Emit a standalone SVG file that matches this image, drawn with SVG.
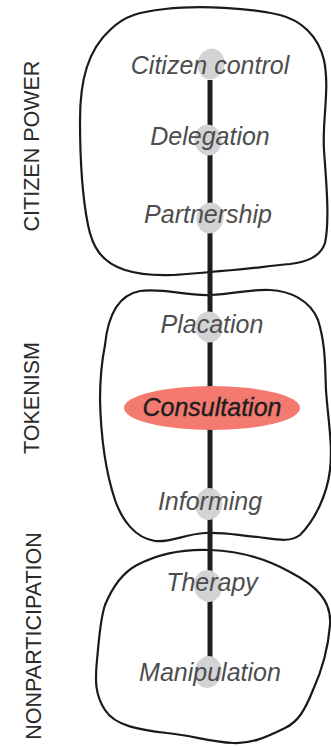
<svg xmlns="http://www.w3.org/2000/svg" width="331" height="746" viewBox="0 0 331 746">
<style>
.blob{fill:none;stroke:#1a1a1a;stroke-width:2.2;stroke-linejoin:round}
.dot{fill:#d3d3d5}
.lbl{font-family:"Liberation Sans",Arial,sans-serif;font-style:italic;font-size:25px;fill:#4d4d4d;text-anchor:middle}
.hi{font-family:"Liberation Sans",Arial,sans-serif;font-style:italic;font-size:25px;fill:#1e1e1e;stroke:#1e1e1e;stroke-width:0.4;text-anchor:middle}
.grp{font-family:"Liberation Sans",Arial,sans-serif;font-size:21.5px;fill:#2a2a2a;text-anchor:middle}
</style>
<rect width="331" height="746" fill="#fff"/>
<g id="group-citizen-power">
<path class="blob" d="M110,30 C125,15 140,12 165,9 C200,5 250,8 280,15 C300,20 318,35 324,60 C330,90 322,120 324,150 C326,180 330,220 325,243 C320,258 305,262 290,264 C260,267 240,270 210,272 C180,275 150,278 125,270 C100,262 92,245 88,225 C82,195 80,160 80,120 C80,80 88,50 110,30 Z"/>
<text class="grp" transform="translate(39,146) rotate(-90)">CITIZEN POWER</text>
</g>
<g id="group-tokenism">
<path class="blob" d="M105,345 C108,315 118,295 140,291 C165,288 185,296 210,295 C235,294 250,289 270,290 C290,291 310,300 318,320 C326,345 325,370 326,390 C328,420 333,445 330,470 C327,495 315,520 300,535 C290,543 275,539 258,537 C235,535 225,532 205,533 C185,534 170,543 155,541 C135,538 122,520 115,500 C105,470 101,440 100,400 C100,380 102,360 105,345 Z"/>
<text class="grp" transform="translate(39,398) rotate(-90)">TOKENISM</text>
</g>
<g id="group-nonparticipation">
<path class="blob" d="M137,565 C160,553 185,549 210,550 C240,551 265,558 290,572 C315,585 332,600 330,625 C328,650 322,670 313,690 C305,710 298,722 285,728 C265,738 250,744 233,743 C210,742 190,735 167,733 C140,730 115,726 105,710 C95,695 95,680 97,660 C99,640 100,620 105,605 C112,588 122,573 137,565 Z"/>
<text class="grp" transform="translate(41,636) rotate(-90)">NONPARTICIPATION</text>
</g>
<g id="connectors">
<line x1="210" y1="80" x2="210" y2="668" stroke="#1e1e1e" stroke-width="5"/>
</g>
<g id="citizen-control">
<ellipse class="dot" cx="211" cy="64" rx="13.5" ry="15.5" transform="rotate(15 211 64)"/>
<text class="lbl" x="210" y="74">Citizen control</text>
</g>
<g id="delegation">
<ellipse class="dot" cx="208" cy="140" rx="13.5" ry="15.5" transform="rotate(-10 208 140)"/>
<text class="lbl" x="210" y="145">Delegation</text>
</g>
<g id="partnership">
<ellipse class="dot" cx="210" cy="218" rx="13.5" ry="15.5" transform="rotate(10 210 218)"/>
<text class="lbl" x="208" y="223">Partnership</text>
</g>
<g id="placation">
<ellipse class="dot" cx="209" cy="327" rx="13.5" ry="15.5" transform="rotate(-8 209 327)"/>
<text class="lbl" x="212" y="333">Placation</text>
</g>
<g id="consultation">
<ellipse cx="212" cy="408" rx="88" ry="22" fill="#f47a6f"/>
<text class="hi" x="212" y="416">Consultation</text>
</g>
<g id="informing">
<ellipse class="dot" cx="209" cy="504" rx="13.5" ry="16" transform="rotate(8 209 504)"/>
<text class="lbl" x="210" y="510">Informing</text>
</g>
<g id="therapy">
<ellipse class="dot" cx="208" cy="586" rx="14" ry="16" transform="rotate(-10 208 586)"/>
<text class="lbl" x="212" y="591">Therapy</text>
</g>
<g id="manipulation">
<ellipse class="dot" cx="208" cy="672" rx="13.5" ry="16" transform="rotate(10 208 672)"/>
<text class="lbl" x="210" y="681">Manipulation</text>
</g>
</svg>
